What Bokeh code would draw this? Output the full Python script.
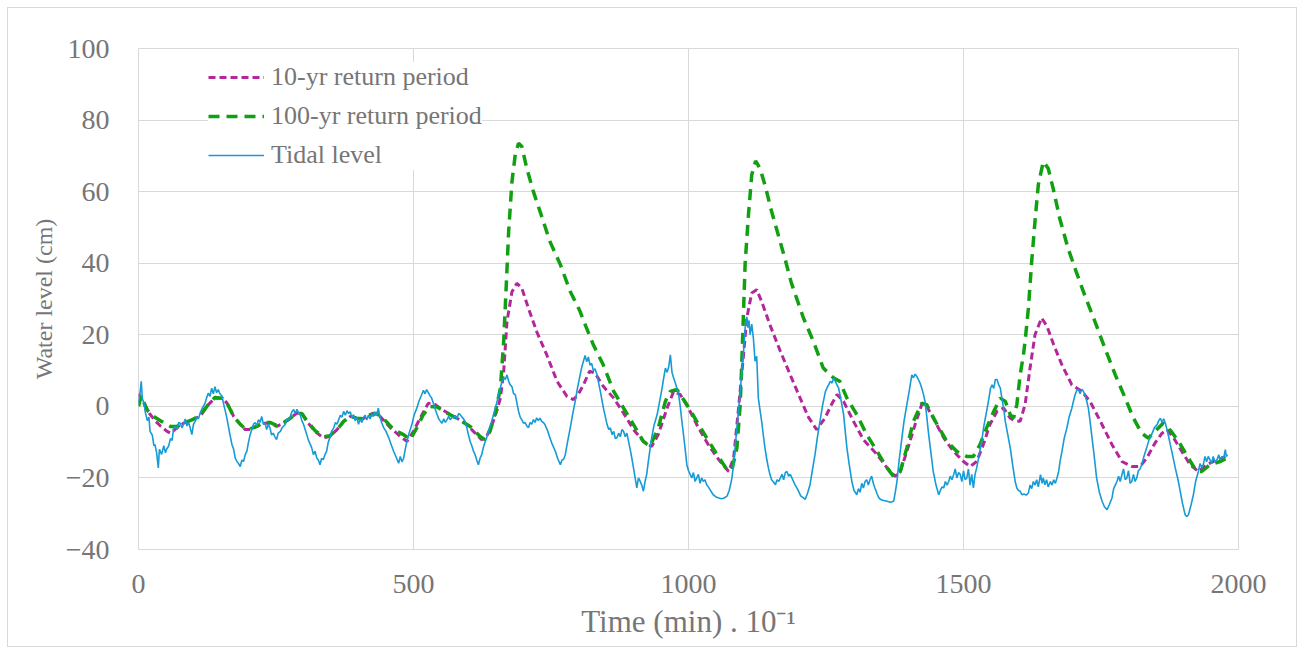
from bokeh.plotting import figure
from bokeh.models import Range1d, FixedTicker, Legend, LegendItem
from bokeh.embed import file_html
from bokeh.resources import INLINE

# ---------------- data ----------------
tide_t = [0, 3, 5, 7, 10, 12, 16, 19, 21, 25, 28, 30, 33, 36, 38, 42, 46, 49, 51, 55, 58, 61, 64, 67, 70, 73, 76, 79, 82, 85, 88, 91, 94, 97, 100,
          103, 106, 109, 112, 116, 121, 124, 127, 130, 133, 136, 139, 142, 145, 148, 152, 155, 158, 161, 164, 167, 170, 173, 176, 179, 182, 185,
          188, 191, 194, 197, 200, 203, 206, 209, 212, 215, 218, 221, 224, 227, 230, 233, 236, 239, 242, 245, 248, 251, 254, 258, 261, 264, 267,
          270, 273, 276, 279, 282, 285, 288, 291, 294, 297, 300, 303, 306, 309, 312, 315, 318, 321, 324, 327, 330, 333, 336, 339, 342, 345, 348,
          351, 355, 358, 361, 364, 367, 370, 373, 376, 379, 382, 385, 388, 391, 394, 397, 400, 403, 406, 409, 412, 415, 418, 421, 424, 427, 430,
          433, 436, 439, 442, 446, 450, 455, 459, 464, 468, 473, 476, 479, 482, 485, 488, 492, 497, 501, 506, 510, 515, 518, 521, 524, 527, 530,
          533, 537, 540, 543, 546, 549, 552, 555, 558, 561, 564, 567, 570, 573, 576, 579, 582, 585, 588, 591, 594, 597, 600, 603, 606, 609, 612,
          615, 618, 621, 624, 627, 630, 633, 637, 642, 647, 652, 656, 661, 664, 667, 670, 673, 676, 679, 682, 685, 688, 691, 694, 697, 700, 703,
          706, 709, 712, 715, 718, 721, 724, 727, 730, 733, 736, 739, 743, 748, 752, 758, 762, 767, 770, 773, 776, 780, 785, 789, 794, 798, 803,
          806, 809, 812, 815, 818, 821, 824, 827, 830, 833, 836, 840, 843, 846, 849, 852, 855, 858, 861, 864, 867, 870, 873, 876, 879, 882, 885,
          888, 891, 894, 897, 900, 903, 906, 909, 912, 915, 918, 921, 924, 927, 930, 933, 937, 943, 947, 952, 955, 958, 961, 964, 967, 970, 973,
          976, 979, 982, 985, 988, 991, 994, 997, 1000, 1003, 1006, 1009, 1012, 1015, 1018, 1021, 1024, 1027, 1030, 1033, 1036, 1040, 1045, 1050,
          1055, 1060, 1065, 1070, 1074, 1077, 1079, 1082, 1085, 1088, 1091, 1094, 1097, 1100, 1103, 1106, 1108, 1110, 1112, 1115, 1118, 1121,
          1124, 1127, 1130, 1133, 1136, 1139, 1142, 1145, 1148, 1151, 1154, 1158, 1161, 1164, 1167, 1170, 1173, 1176, 1179, 1182, 1185, 1188,
          1191, 1194, 1197, 1200, 1204, 1209, 1212, 1216, 1221, 1225, 1230, 1234, 1239, 1244, 1249, 1253, 1258, 1261, 1264, 1267, 1270, 1273,
          1277, 1282, 1285, 1288, 1292, 1297, 1301, 1306, 1309, 1312, 1315, 1318, 1321, 1324, 1327, 1330, 1333, 1336, 1339, 1343, 1346, 1349,
          1355, 1361, 1367, 1373, 1376, 1379, 1383, 1388, 1392, 1397, 1401, 1406, 1409, 1412, 1415, 1418, 1421, 1424, 1427, 1430, 1433, 1436,
          1440, 1445, 1450, 1455, 1458, 1461, 1464, 1467, 1470, 1473, 1476, 1479, 1482, 1485, 1488, 1491, 1494, 1497, 1500, 1503, 1506, 1509,
          1512, 1515, 1518, 1521, 1524, 1528, 1533, 1537, 1542, 1546, 1549, 1552, 1555, 1558, 1561, 1564, 1567, 1570, 1573, 1576, 1580, 1585,
          1589, 1594, 1597, 1600, 1603, 1606, 1610, 1614, 1618, 1621, 1624, 1627, 1630, 1633, 1636, 1640, 1643, 1645, 1648, 1651, 1654, 1658,
          1661, 1664, 1667, 1670, 1673, 1676, 1679, 1683, 1688, 1692, 1697, 1700, 1703, 1706, 1709, 1712, 1715, 1718, 1721, 1724, 1727, 1730,
          1733, 1737, 1742, 1747, 1752, 1756, 1761, 1765, 1770, 1773, 1776, 1779, 1782, 1785, 1788, 1791, 1794, 1797, 1800, 1803, 1806, 1809,
          1812, 1815, 1818, 1821, 1824, 1828, 1833, 1837, 1842, 1847, 1852, 1855, 1858, 1861, 1864, 1867, 1870, 1873, 1876, 1880, 1885, 1890,
          1894, 1898, 1903, 1906, 1909, 1913, 1918, 1922, 1927, 1930, 1933, 1936, 1939, 1942, 1945, 1948, 1951, 1954, 1957, 1961, 1964, 1967,
          1970, 1973, 1976, 1978, 1980]

tide_level = [1, 4, 7, 2, 1, -1.4, -4, -3, -7, -8, -11, -10.7, -13, -17.2, -12, -13.4, -11, -13, -12, -11, -9, -9.5, -6, -5.7, -6.5, -4.5, -4.7,
              -6, -5, -3.5, -5.5, -4.5, -6, -7.9, -5, -4.2, -3, -3.5, -1.9, -0.5, 0.9, 2.5, 3.7, 2.8, 5.1, 3.5, 5.5, 3.8, 4.7, 3.5, 2.8, 0.5,
              -1.4, -3.5, -6, -8.5, -10.7, -12, -14.5, -15.4, -16, -16.8, -15, -15.4, -13.5, -12.6, -10, -7.9, -6.5, -5, -4.5, -5.5, -3.7,
              -4.5, -2.8, -5, -4.7, -6.5, -5, -6, -8, -7.5, -8.5, -9.3, -7.5, -7, -6, -5.5, -5, -3.5, -4, -2.8, -1.5, -0.9, -2, -0.8, -1.8,
              -2.3, -4, -5, -6.5, -7.9, -9.5, -10.5, -11.6, -13.5, -12.5, -14.4, -15, -16.3, -14.5, -14.9, -13.5, -12.6, -10, -8.8, -7, -6,
              -4.5, -5, -3.7, -2.5, -3, -1.4, -2.5, -1.2, -2, -1.5, -3.2, -2.3, -4, -3, -5, -3.5, -4.5, -3.1, -2.5, -3.8, -2.5, -3.5, -2.2,
              -2.8, -1.5, -2.5, -0.5, -3, -4.5, -6, -7, -8.8, -10.5, -12.6, -14, -15.9, -14, -15.5, -14.5, -12, -9.8, -7.5, -5.1, -2.5, -0.5,
              1.5, 3.3, 4.5, 3.5, 4.7, 3.8, 3, 2.3, 0.5, -1, -2.3, -3.5, -4.2, -4.7, -3.5, -4.5, -3.7, -2.8, -3.8, -3, -3.3, -2.5, -3.5, -2,
              -2.3, -3, -3.5, -4.2, -6, -8, -9.8, -11, -12.5, -13.5, -15, -16.3, -14.5, -13.5, -11.5, -10, -8.8, -6.5, -4.2, -1.5, 1.4, 4, 7,
              8, 7.5, 8.8, 7, 6, 5.5, 3.5, 3.3, 1, -1.4, -3, -3.8, -4.7, -4.5, -5.5, -6, -4.5, -5, -3.7, -4.5, -3.2, -4, -3.3, -4.2, -4.5,
              -5.1, -6.5, -8.8, -10.5, -12.6, -14.5, -16.3, -15, -14.8, -13.5, -10, -6, -2.5, 1.4, 5, 8.8, 11, 12.6, 14.2, 12.5, 13.8, 11.5,
              12, 10, 10.5, 9.2, 7, 4, 1.4, -1, -3, -5.1, -6.5, -6, -7.9, -7, -9, -8.8, -7.5, -8.5, -6.5, -7, -8.5, -7.5, -9.8, -12, -14.5,
              -17.2, -20, -22.8, -20, -20.9, -22, -23.7, -21, -19, -15.4, -12, -8.8, -5.5, -2.3, 1, 5.1, 8, 10.7, 9.5, 11, 14.4, 9.5, 7.9,
              6.5, 5, 3.3, 0, -4.2, -8, -12, -16.3, -18, -19, -20, -18.5, -21, -20, -19, -21.5, -20, -21, -20.5, -21.9, -22.5, -23.5, -24.7,
              -25.3, -25.6, -25.8, -25.6, -25.1, -23.5, -21.5, -20, -16, -11, -6, -1, 4, 9.8, 15, 21.9, 25, 22, 24, 20, 23, 19, 12.6, 14, 2.3,
              -1, -4.2, -8, -11.6, -14.5, -17, -19, -20.5, -21, -21.9, -20.5, -21, -20, -19, -20.5, -18.5, -18.2, -19.5, -19, -20, -21, -22,
              -22.8, -23.7, -25, -25.6, -26, -24.5, -21.9, -18, -13.5, -9, -4.2, 0.5, 4.2, 5.5, 7, 6.5, 7.9, 7, 6, 5.1, 2, -2.3, -7, -11.6,
              -16, -21, -23.5, -24.7, -23, -24, -21.5, -22.8, -21, -20.5, -22, -20.5, -19.5, -21.5, -22.8, -24.5, -25.5, -26, -26.3, -26.5,
              -26.8, -26.5, -24, -21, -15, -8.8, -4, 0.5, 4, 8.8, 8, 9, 8.4, 7.5, 6.5, 5.1, 3.5, 1.4, -2.5, -7, -12, -18.2, -22, -24.7, -23.5,
              -22.5, -22.8, -21, -22, -21, -19.5, -20.5, -19.1, -17.5, -20, -18.5, -19, -21, -18, -20.5, -20, -17.5, -22, -19, -22.8, -19,
              -17.2, -14, -9.8, -5.5, -1.4, 2, 5, 6, 5, 7.5, 7.5, 6, 5.1, 2, -0.5, -4.2, -7.5, -11.6, -16, -21, -22.8, -23.5, -23.7, -24.7,
              -24.5, -24.8, -24.2, -22, -23, -21, -22, -20.5, -22.5, -19.1, -21.5, -20, -21.9, -20.5, -22.5, -21, -22, -20.5, -21.5, -20,
              -18.2, -15, -12.6, -9, -6, -3, -0.5, 1.5, 3.3, 4.5, 4.7, 3.5, 4.8, 4.2, 3, 1.5, -0.5, -4, -7.9, -13, -20, -24, -26.5, -28,
              -28.9, -27.5, -25.6, -23, -22, -21, -19.5, -21, -19.1, -17.5, -20.5, -20, -18, -21.5, -21, -19, -21, -20, -18, -17.5, -16.3,
              -14, -11.6, -9.5, -7.9, -6, -5.1, -4, -3.3, -4.5, -3.5, -4.7, -6.5, -8.5, -10.7, -13.5, -17.2, -20.5, -23.7, -27, -30.3, -30.8,
              -30.3, -28, -24.7, -21, -18.2, -16, -17, -16.3, -14, -15.5, -14, -14.9, -16, -14, -15.5, -14.9, -13.5, -15, -14, -14.5, -12.1,
              -14, -13.5]

rp10_t = [0, 10, 20, 30, 40, 52, 58, 70, 82, 97, 112, 127, 139, 152, 161, 173, 185, 194, 203, 215, 227, 239, 251, 264, 276, 288, 297, 306,
          321, 336, 348, 361, 373, 385, 397, 406, 418, 427, 439, 458, 476, 488, 500, 512, 527, 539, 552, 567, 579, 597, 609, 624, 633, 645,
          652, 658, 664, 670, 679, 688, 697, 709, 724, 742, 761, 779, 791, 800, 809, 820, 830, 845, 864, 882, 900, 918, 933, 945, 961, 973,
          985, 1000, 1018, 1036, 1055, 1073, 1082, 1091, 1100, 1106, 1115, 1124, 1133, 1148, 1167, 1185, 1203, 1218, 1233, 1248, 1260,
          1270, 1282, 1300, 1318, 1343, 1361, 1376, 1385, 1397, 1412, 1424, 1430, 1445, 1464, 1482, 1500, 1512, 1524, 1536, 1548, 1561,
          1573, 1585, 1594, 1603, 1612, 1621, 1630, 1642, 1652, 1664, 1679, 1697, 1715, 1730, 1749, 1770, 1788, 1806, 1821, 1833, 1848,
          1861, 1870, 1882, 1897, 1912, 1927, 1942, 1961, 1979]
rp10_level = [3.5, 1, -2, -4, -5.5, -7, -7.5, -6, -4.7, -3.8, -2.8, 0.5, 2.3, 2.3, 0.9, -2.8, -5, -6.5, -6.5, -5.6, -4.7, -4.7, -5.6, -4.7,
              -3.3, -1.9, -2, -4.2, -7, -8.8, -8.4, -6.5, -4.2, -2.8, -3.3, -3.7, -2.5, -1.9, -2.8, -6, -8.4, -9.8, -7, -3.3, 0.9, 0.5, -0.9,
              -2.3, -3.3, -5.1, -7, -9.3, -8.4, -4.2, -1, 2.3, 9.8, 23.7, 32, 34.4, 33, 27.4, 20.9, 14.5, 7, 2.8, 1.9, 3.5, 6, 9.8, 9.3, 5.6,
              2.3, -1.9, -6.5, -9.8, -11.2, -7.9, -0.5, 4.2, 3.3, -0.5, -6, -10.7, -14.9, -18.2, -14.5, -0.5, 14.4, 24.7, 31.7, 32.6, 29.3,
              22.8, 15.4, 8.8, 2.3, -3, -6.5, -3.3, 0.5, 3.3, 1.4, -4.2, -9.3, -13.5, -17.2, -19.6, -18.2, -12.6, -5.1, 0.5, 0.9, -3.3, -8.8,
              -12.6, -15.4, -16.8, -15.4, -10.7, -5.1, -1.4, -0.5, -3.3, -4, -4.2, 0.5, 10.7, 20, 24.7, 22.3, 17.2, 11.6, 6, 4.2, 1.4, -4.2,
              -10.7, -15.4, -16.8, -16.8, -14.5, -10.3, -7.5, -6.5, -8.8, -12.6, -16.3, -18.2, -16.3, -14.9, -14]

rp100_t = [0, 5, 15, 27, 42, 58, 70, 82, 97, 112, 127, 139, 152, 161, 173, 185, 194, 203, 215, 227, 239, 251, 264, 276, 288, 297, 306, 321,
           336, 348, 361, 373, 385, 397, 409, 421, 433, 446, 464, 482, 494, 506, 518, 530, 543, 560, 579, 603, 621, 630, 639, 648, 658, 664,
           669, 673, 679, 685, 691, 697, 706, 718, 730, 748, 767, 785, 803, 809, 827, 845, 864, 882, 900, 918, 930, 945, 958, 967, 979, 997,
           1015, 1033, 1052, 1070, 1079, 1088, 1094, 1097, 1103, 1109, 1115, 1122, 1130, 1139, 1151, 1163, 1175, 1187, 1209, 1227, 1245,
           1264, 1275, 1288, 1306, 1324, 1343, 1361, 1373, 1385, 1397, 1409, 1424, 1433, 1452, 1470, 1488, 1506, 1518, 1530, 1542, 1555,
           1567, 1576, 1585, 1591, 1597, 1603, 1609, 1612, 1618, 1624, 1630, 1636, 1645, 1654, 1663, 1675, 1690, 1705, 1720, 1739, 1757,
           1776, 1794, 1809, 1824, 1836, 1848, 1863, 1878, 1893, 1909, 1924, 1933, 1948, 1967, 1979]
rp100_level = [0, 3, -0.9, -2.8, -4.2, -5.6, -5.6, -4.7, -3.8, -2.5, 0.5, 2.5, 2.3, 0.9, -2.8, -5, -6.3, -6.3, -5.6, -4.5, -4.5, -5.3, -4.5,
               -3.3, -2, -2, -4, -6.8, -8.5, -8.2, -6.5, -4.2, -2.8, -3.3, -3.5, -2.5, -2, -3.5, -6.5, -7.9, -9.3, -6, -2.3, 0, -0.2, -1.8,
               -3.3, -5.6, -8.4, -9.3, -7, -2.3, 5.1, 18.2, 35, 48.9, 62.8, 70.3, 73.5, 72.6, 66.5, 60, 54.5, 46.1, 39.6, 32.1, 26.5, 24,
               17.2, 11.6, 4.2, -0.5, -5.1, -9.8, -11.2, -6, 1.4, 4.2, 4.7, 0.5, -4.2, -8.8, -13.5, -17.7, -17.7, -11.6, 0.5, 12.6, 40,
               53.5, 64.7, 68.6, 66.5, 61.9, 54.5, 48, 41.5, 34.5, 24.7, 18.2, 10.7, 7.9, 7, 2.3, -2.3, -7.9, -12.6, -17.2, -19.6, -18.2,
               -11.6, -4.2, 0.9, 0.5, -5.1, -9.8, -12.6, -14, -14, -10.7, -6, -1.4, 2.3, 1.4, -2.3, -3.3, 0.5, 8.8, 14.4, 18.2, 27.4, 40.5,
               51.7, 61.9, 68.4, 66.5, 60.9, 52.5, 44.2, 37.6, 31.2, 23.7, 16.3, 8.8, 2.3, -3.3, -7.5, -8.9, -7, -4.7, -7, -10.3, -14.5,
               -18.2, -18.2, -16.3, -15.4, -14.5]

x_ticks = [0, 500, 1000, 1500, 2000]
y_ticks = [-40, -20, 0, 20, 40, 60, 80, 100]
series_names = ["10-yr return period", "100-yr return period", "Tidal level"]

# ---------------- figure ----------------
FONT = "Liberation Serif"
TXT = "#767676"
GRID = "#D9D9D9"

p = figure(width=1290, height=640, x_range=Range1d(0, 2000), y_range=Range1d(-40, 100),
           output_backend="svg", toolbar_location=None,
           min_border_left=130, min_border_right=60, min_border_top=40, min_border_bottom=99)
p.background_fill_color = "white"
p.border_fill_color = "white"
p.outline_line_color = GRID
p.outline_line_width = 1
p.styles = {"border": "1px solid #D9D9D9", "margin-left": "7px", "margin-top": "7px"}

r10 = p.line(rp10_t, rp10_level, line_color="#B4279C", line_width=3, line_dash="7 4")
r100 = p.line(rp100_t, rp100_level, line_color="#11A011", line_width=3.5, line_dash="11 7")
rt = p.line(tide_t, tide_level, line_color="#169BD7", line_width=1.6)

for ax in (p.xaxis[0], p.yaxis[0]):
    ax.axis_line_color = None
    ax.major_tick_line_color = None
    ax.minor_tick_line_color = None
    ax.major_label_text_font = FONT
    ax.major_label_text_font_size = "28px"
    ax.major_label_text_color = TXT
    ax.axis_label_text_font = FONT
    ax.axis_label_text_color = TXT
    ax.axis_label_text_font_style = "normal"

p.xaxis.axis_label_text_font_size = "31px"
p.yaxis.axis_label_text_font_size = "24px"
p.xaxis.ticker = FixedTicker(ticks=x_ticks)
p.yaxis.ticker = FixedTicker(ticks=y_ticks)
p.yaxis.major_label_overrides = {-20: "\u221220", -40: "\u221240"}
p.xaxis.major_label_standoff = 19
p.yaxis.major_label_standoff = 23
p.xaxis.axis_label = "Time (min) . 10\u207b\u00b9"
p.yaxis.axis_label = "Water level (cm)"
p.xaxis.axis_label_standoff = 8
p.yaxis.axis_label_standoff = 6

p.xgrid.ticker = FixedTicker(ticks=x_ticks)
p.ygrid.ticker = FixedTicker(ticks=y_ticks)
p.xgrid.grid_line_color = GRID
p.ygrid.grid_line_color = GRID
p.xgrid.grid_line_width = 1
p.ygrid.grid_line_width = 1

legend = Legend(items=[LegendItem(label=series_names[0], renderers=[r10]),
                       LegendItem(label=series_names[1], renderers=[r100]),
                       LegendItem(label=series_names[2], renderers=[rt])],
                location=(70, 379))
legend.label_text_font = FONT
legend.label_text_font_size = "26px"
legend.label_text_color = TXT
legend.glyph_width = 56
legend.glyph_height = 30
legend.label_height = 30
legend.label_standoff = 7
legend.spacing = 9
legend.padding = 10
legend.border_line_color = None
legend.background_fill_color = "white"
legend.background_fill_alpha = 1.0
p.add_layout(legend)

open("out.html", "w").write(file_html(p, INLINE))
